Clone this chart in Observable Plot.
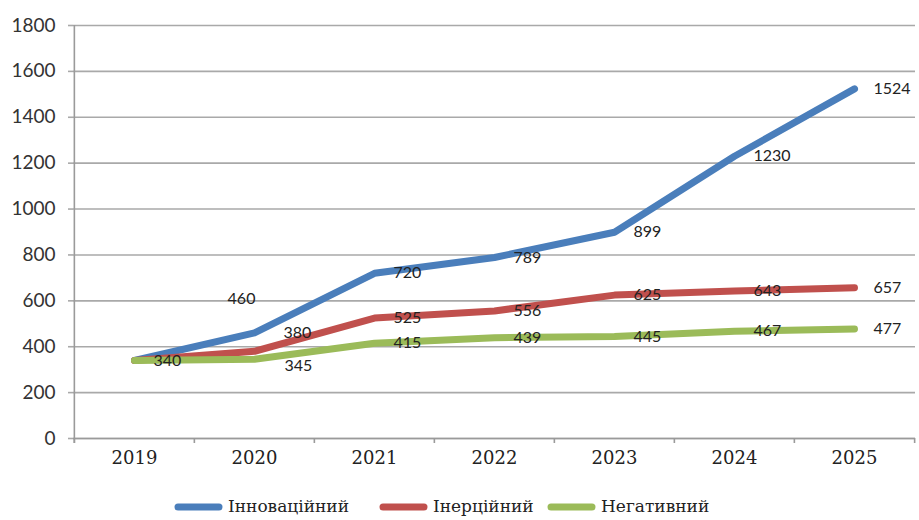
<!DOCTYPE html>
<html>
<head>
<meta charset="utf-8">
<script src="https://cdn.jsdelivr.net/npm/d3@7"></script>
<script src="https://cdn.jsdelivr.net/npm/@observablehq/plot@0.6"></script>
<style>
  html, body { margin: 0; padding: 0; background: #fff; }
  #chart { width: 919px; height: 520px; }
  #chart svg { display: block; }
</style>
</head>
<body>
<div id="chart"></div>
<script>
// Scenario forecast, 2019–2025
const years = ["2019", "2020", "2021", "2022", "2023", "2024", "2025"];
const innovative = [340, 460, 720, 789, 899, 1230, 1524];
const inertial = [340, 380, 525, 556, 625, 643, 657];
const negative = [340, 345, 415, 439, 445, 467, 477];
const seriesNames = ["Інноваційний", "Інерційний", "Негативний"];
const seriesColors = ["#4a7ebb", "#c0504d", "#9bbb59"];
const yTicks = [0, 200, 400, 600, 800, 1000, 1200, 1400, 1600, 1800];

const seriesValues = [innovative, inertial, negative];
const rows = seriesValues.flatMap((vals, s) =>
  vals.map((v, i) => ({ series: seriesNames[s], year: years[i], value: v, s, i })));

const W = 919, H = 478;
const mLeft = 73, mRight = 4, mTop = 25, mBottom = 40;
const step = (W - mLeft - mRight) / years.length;
const tickDown = -5 * 1800 / (H - mTop - mBottom); // 5px below the axis, in data units

// label placement: most labels sit to the right of their point
function labelShift(d) {
  if (d.s === 0 && d.i === 1) return { dx: -13, dy: -34, anchor: "middle" };
  if (d.s === 1 && d.i === 1) return { dx: 29, dy: -18, anchor: "start" };
  if (d.s === 2 && d.i === 1) return { dx: 30, dy: 7, anchor: "start" };
  return { dx: 19, dy: 0, anchor: "start" };
}
// the shared starting value is labelled once
const labelRows = rows.filter(d => !(d.i === 0 && d.s !== 2));
const labelGroups = d3.groups(labelRows, d => { const k = labelShift(d); return `${k.dx}|${k.dy}|${k.anchor}`; });

const labelFont = "Lato, 'Liberation Sans', sans-serif";
const serifFont = "'DejaVu Serif', serif";

const plot = Plot.plot({
  width: W,
  height: H,
  marginLeft: mLeft,
  marginRight: mRight,
  marginTop: mTop,
  marginBottom: mBottom,
  style: { background: "#fff", overflow: "visible" },
  x: { type: "point", domain: years, padding: 0.5, align: 0.5 },
  y: { domain: [0, 1800] },
  color: { domain: seriesNames, range: seriesColors },
  marks: [
    Plot.gridY(yTicks, { stroke: "#a9a9a9", strokeOpacity: 1, strokeWidth: 1.6 }),
    Plot.axisY(yTicks, {
      tickSize: 5, tickPadding: 13, stroke: "#a9a9a9", strokeWidth: 1.6,
      tickFormat: d => String(d),
      fontSize: 19, fontFamily: labelFont, fill: "#333", label: null
    }),
    Plot.axisX(years, {
      tickSize: 0, tickPadding: 13, fontSize: 18,
      fontFamily: serifFont, fill: "#222", label: null
    }),
    // axis lines and category boundary ticks
    Plot.ruleY([0], { stroke: "#9a9a9a", strokeWidth: 1.6 }),
    Plot.ruleX(years, { x: d => d, dx: -step / 2, y1: tickDown, y2: 0, stroke: "#9a9a9a", strokeWidth: 1.6 }),
    Plot.ruleX([years[years.length - 1]], { x: d => d, dx: step / 2, y1: tickDown, y2: 0, stroke: "#9a9a9a", strokeWidth: 1.6 }),
    Plot.ruleX([years[0]], { x: d => d, dx: -step / 2, y1: tickDown, y2: 1800, stroke: "#9a9a9a", strokeWidth: 1.6 }),
    // series lines
    Plot.line(rows, {
      x: "year", y: "value", z: "series", stroke: "series",
      strokeWidth: 7, strokeLinecap: "round", strokeLinejoin: "round"
    }),
    // value labels
    ...labelGroups.map(([key, data]) => {
      const [dx, dy, anchor] = key.split("|");
      return Plot.text(data, {
        x: "year", y: "value", text: d => String(d.value),
        dx: +dx, dy: +dy, textAnchor: anchor,
        fontSize: 16, fontFamily: labelFont, fill: "#222"
      });
    })
  ]
});

const chart = document.getElementById("chart");
chart.appendChild(plot);

// legend strip below the plot
const legendH = 520 - H;
const legendLeft = [175, 380, 548];
const legend = d3.select(chart).append("svg")
  .attr("width", W).attr("height", legendH)
  .attr("font-family", serifFont).attr("font-size", 17);
const items = legend.selectAll("g").data(seriesNames).join("g")
  .attr("transform", (d, i) => `translate(${legendLeft[i]},${legendH - 13})`);
items.append("line")
  .attr("x1", 3).attr("x2", 44).attr("y1", 0).attr("y2", 0)
  .attr("stroke", (d, i) => seriesColors[i])
  .attr("stroke-width", 7).attr("stroke-linecap", "round");
items.append("text")
  .attr("x", 53).attr("y", 0).attr("dy", "0.32em")
  .attr("fill", "#222")
  .text(d => d);
</script>
</body>
</html>
